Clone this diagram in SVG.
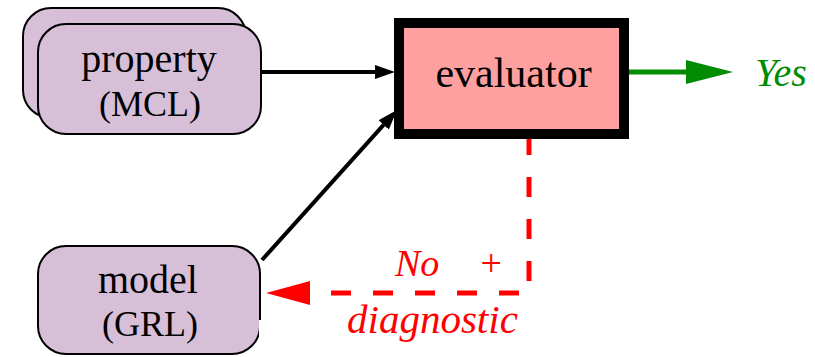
<svg xmlns="http://www.w3.org/2000/svg" width="815" height="357" viewBox="0 0 815 357">
  <style>
    .node { fill: #d8bfd8; stroke: #000; stroke-width: 2; }
    .edge { fill: none; stroke: #000; stroke-width: 4; }
  </style>
  <defs>
    <marker id="ahBlack" viewBox="0 0 20 14" refX="0" refY="7" markerWidth="20" markerHeight="14" markerUnits="userSpaceOnUse" orient="auto">
      <path d="M0 0 L20 7 L0 14 Z" fill="#000"/>
    </marker>
    <marker id="ahGreen" viewBox="0 0 47 24" refX="0" refY="12" markerWidth="47" markerHeight="24" markerUnits="userSpaceOnUse" orient="auto">
      <path d="M0 0 L47 12 L0 24 Z" fill="#008b00"/>
    </marker>
    <marker id="ahRed" viewBox="0 0 44 24" refX="0" refY="12" markerWidth="44" markerHeight="24" markerUnits="userSpaceOnUse" orient="auto">
      <path d="M0 0 L44 12 L0 24 Z" fill="#ff0000"/>
    </marker>
  </defs>

  <g id="connectors">
    <line class="edge" x1="261" y1="72" x2="375" y2="72" marker-end="url(#ahBlack)"/>
    <line class="edge" x1="262" y1="260" x2="383.6" y2="124.9" marker-end="url(#ahBlack)"/>
    <line x1="629" y1="72" x2="686" y2="72" stroke="#008b00" stroke-width="5" marker-end="url(#ahGreen)"/>
    <path d="M529 135 V293 H310" fill="none" stroke="#ff0000" stroke-width="5" stroke-dasharray="20 22" marker-end="url(#ahRed)"/>
  </g>

  <g id="property">
    <rect class="node" x="23" y="8" width="223" height="110" rx="28" ry="28"/>
    <rect class="node" x="38" y="24" width="223" height="110" rx="28" ry="28"/>
    <text x="149" y="72" font-size="40" text-anchor="middle" font-family="Times New Roman, serif">property</text>
    <text x="150" y="116" font-size="36" text-anchor="middle" font-family="Times New Roman, serif">(MCL)</text>
  </g>

  <g id="model">
    <rect class="node" x="38" y="246" width="222" height="108" rx="28" ry="28"/>
    <rect x="259" y="320" width="10" height="40" fill="#fff"/>
    <text x="148" y="293" font-size="40" text-anchor="middle" font-family="Times New Roman, serif">model</text>
    <text x="150" y="336" font-size="36" text-anchor="middle" font-family="Times New Roman, serif">(GRL)</text>
  </g>

  <g id="evaluator">
    <rect x="399" y="23" width="225" height="111" fill="#ffa0a0" stroke="#000" stroke-width="10"/>
    <text x="513.5" y="87" font-size="42" text-anchor="middle" font-family="Times New Roman, serif">evaluator</text>
  </g>

  <g id="labels">
    <text x="755" y="86" font-size="40" font-style="italic" fill="#008b00" font-family="Times New Roman, serif">Yes</text>
    <text x="395" y="276" font-size="38" font-style="italic" fill="#ff0000" font-family="Times New Roman, serif">No</text>
    <text x="478" y="276" font-size="38" font-style="italic" fill="#ff0000" font-family="Times New Roman, serif">+</text>
    <text x="347" y="333" font-size="41" font-style="italic" fill="#ff0000" font-family="Times New Roman, serif">diagnostic</text>
  </g>
</svg>
